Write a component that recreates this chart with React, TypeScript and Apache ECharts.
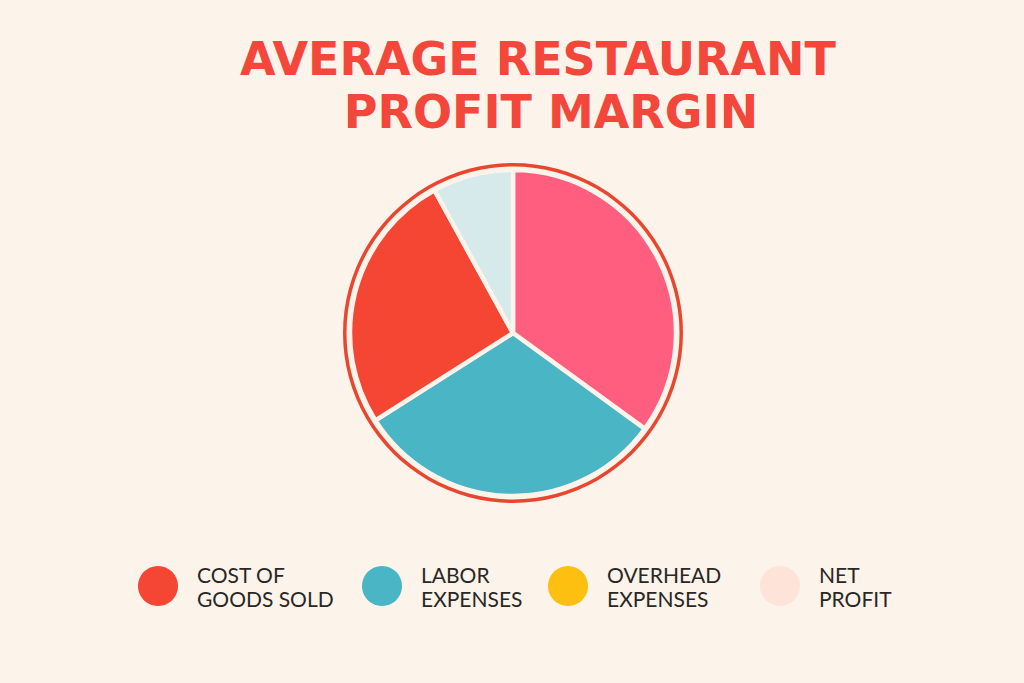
import * as echarts from "echarts"
import { useEffect, useRef } from "react"

const titleLines = ["AVERAGE RESTAURANT", "PROFIT MARGIN"]

// slices clockwise from 12 o'clock
const sliceNames = [
  "OVERHEAD\nEXPENSES",
  "LABOR\nEXPENSES",
  "COST OF\nGOODS SOLD",
  "NET\nPROFIT",
]
const sliceValues = [35, 31, 26, 8]
const sliceColors = ["#FF5E7E", "#4AB5C4", "#F54533", "#D6EAEC"]

// legend order and swatch colours as printed under the chart
const legendNames = [
  "COST OF\nGOODS SOLD",
  "LABOR\nEXPENSES",
  "OVERHEAD\nEXPENSES",
  "NET\nPROFIT",
]
const legendColors = ["#F54533", "#4AB5C4", "#FDC010", "#FDE3D8"]
const legendLefts = [138, 362, 548, 760]

const bg = "#FCF4EB"
const red = "#F3473B"

export default function App() {
  const node = useRef<HTMLDivElement>(null)

  useEffect(() => {
    document.body.style.margin = "0"
    if (!node.current) return
    const chart = echarts.init(node.current, undefined, { renderer: "svg" })
    const titleFont = {
      fontFamily: "DejaVu Sans",
      fontWeight: "bold" as const,
      fontSize: 46,
      color: red,
    }
    chart.setOption({
      animation: false,
      backgroundColor: bg,
      title: [
        { text: titleLines[0], left: 533, top: 31, textAlign: "center", textStyle: titleFont },
        { text: titleLines[1], left: 546, top: 84, textAlign: "center", textStyle: titleFont },
      ],
      // one legend per item so each swatch sits where the reference puts it
      legend: legendNames.map((name, i) => ({
        data: [{ name, itemStyle: { color: legendColors[i] } }],
        left: legendLefts[i],
        top: 562,
        padding: 0,
        orient: "horizontal",
        icon: "circle",
        itemWidth: 40,
        itemHeight: 40,
        selectedMode: false,
        itemStyle: { borderWidth: 0 },
        textStyle: {
          fontFamily: "Lato",
          fontSize: 21,
          lineHeight: 24,
          color: "#2A2724",
          padding: [0, 0, 0, 14],
        },
      })),
      series: [
        {
          name: "ring",
          type: "pie",
          center: [513, 333],
          radius: [166.5, 170],
          silent: true,
          label: { show: false },
          labelLine: { show: false },
          data: [{ value: 1, name: "ring", itemStyle: { color: "#E9462F" } }],
        },
        {
          name: "margin",
          type: "pie",
          center: [513, 333],
          radius: 163,
          startAngle: 90,
          clockwise: true,
          silent: true,
          label: { show: false },
          labelLine: { show: false },
          emphasis: { disabled: true },
          itemStyle: { borderColor: bg, borderWidth: 4.5 },
          data: sliceNames.map((name, i) => ({
            name,
            value: sliceValues[i],
            itemStyle: { color: sliceColors[i] },
          })),
        },
      ],
    })
    return () => chart.dispose()
  }, [])

  return <div ref={node} style={{ width: 1024, height: 683 }} />
}
